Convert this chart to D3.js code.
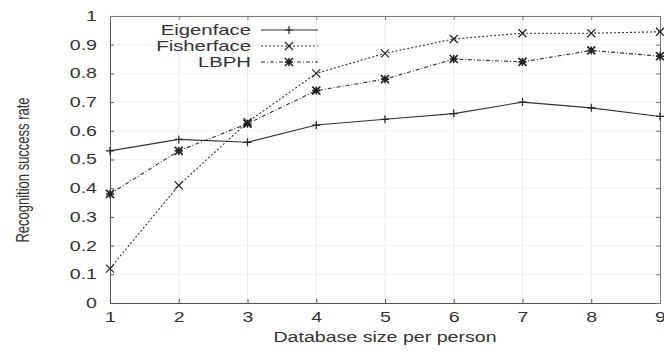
<!DOCTYPE html>
<html>
<head>
<meta charset="utf-8">
<script src="https://cdn.jsdelivr.net/npm/d3@7"></script>
<style>
  body { margin: 0; background: #fff; }
  text { font-family: "Liberation Sans", Arial, sans-serif; fill: #333; }
</style>
</head>
<body>
<svg id="chart" width="664" height="352"></svg>
<script>
// data
var sizes = [1, 2, 3, 4, 5, 6, 7, 8, 9];
var eigenface = [0.53, 0.57, 0.56, 0.62, 0.64, 0.66, 0.70, 0.68, 0.65];
var fisherface = [0.12, 0.41, 0.63, 0.80, 0.87, 0.92, 0.94, 0.94, 0.945];
var lbph = [0.38, 0.53, 0.625, 0.74, 0.78, 0.85, 0.84, 0.88, 0.86];
var yTicks = [0, 0.1, 0.2, 0.3, 0.4, 0.5, 0.6, 0.7, 0.8, 0.9, 1];

var series = [
  {name: "Eigenface", values: eigenface, dash: null, marker: "plus"},
  {name: "Fisherface", values: fisherface, dash: "2,2", marker: "cross"},
  {name: "LBPH", values: lbph, dash: "4,2,1,2", marker: "star"}
];

// the original picture is stretched sideways, so text is widened too
var stretch = 1.4;

var svg = d3.select("#chart");
var margin = {top: 16, right: 4, bottom: 49, left: 110},
    width = 664 - margin.left - margin.right,
    height = 352 - margin.top - margin.bottom;

var x = d3.scaleLinear().domain([1, 9]).range([0, width]),
    y = d3.scaleLinear().domain([0, 1]).range([height, 0]);

var g = svg.append("g")
    .attr("transform", "translate(" + margin.left + "," + margin.top + ")");

// faint grid
g.selectAll(".vgrid").data(sizes).enter().append("line")
    .attr("x1", function(d) { return x(d); }).attr("x2", function(d) { return x(d); })
    .attr("y1", 0).attr("y2", height)
    .attr("stroke", "#ececec");
g.selectAll(".hgrid").data(yTicks).enter().append("line")
    .attr("x1", 0).attr("x2", width)
    .attr("y1", function(d) { return y(d); }).attr("y2", function(d) { return y(d); })
    .attr("stroke", "#f2f2f2");

function axisColor(c) {
  return function(a) { a.select(".domain").attr("stroke", c); a.selectAll("line").attr("stroke", c); };
}

// axes, ticks pointing inward
g.append("g")
    .attr("transform", "translate(0," + height + ")")
    .call(d3.axisBottom(x).tickValues(sizes).tickSizeInner(-4).tickSizeOuter(0).tickPadding(9).tickFormat(d3.format("d")))
    .call(axisColor("#555"))
    .selectAll("text")
      .style("font-size", "14px")
      .attr("transform", "scale(" + stretch + ",1)");

g.append("g")
    .call(d3.axisLeft(y).tickValues(yTicks).tickSizeInner(-4).tickSizeOuter(0)
      .tickFormat(function(d) { return d === 0 || d === 1 ? d : d.toFixed(1); }))
    .call(axisColor("#555"))
    .selectAll("text")
      .style("font-size", "14px")
      .attr("x", -13 / stretch)
      .attr("transform", "scale(" + stretch + ",1)");

g.append("g")
    .call(d3.axisTop(x).tickValues(sizes).tickSizeInner(-4).tickSizeOuter(0).tickFormat(""))
    .call(axisColor("#777"));
g.append("g")
    .attr("transform", "translate(" + width + ",0)")
    .call(d3.axisRight(y).tickValues(yTicks).tickSizeInner(-4).tickSizeOuter(0).tickFormat(""))
    .call(axisColor("#777"));

// axis titles
svg.append("text")
    .attr("transform", "translate(385,342) scale(" + stretch + ",1)")
    .attr("text-anchor", "middle").style("font-size", "14px")
    .text("Database size per person");
svg.append("text")
    .attr("transform", "translate(29,170) rotate(-90) scale(1," + stretch + ")")
    .attr("text-anchor", "middle").style("font-size", "13px")
    .text("Recognition success rate");

function drawMarker(sel, type) {
  var s = 4;
  var p = "";
  if (type === "plus" || type === "star") p += "M" + (-s) + ",0H" + s + "M0," + (-s) + "V" + s;
  if (type === "cross" || type === "star") p += "M" + (-s) + "," + (-s) + "L" + s + "," + s + "M" + (-s) + "," + s + "L" + s + "," + (-s);
  sel.append("path").attr("d", p).attr("stroke", "#222").attr("stroke-width", type === "star" ? 1.6 : 1.2).attr("fill", "none");
}

var line = d3.line()
    .x(function(d, i) { return x(sizes[i]); })
    .y(function(d) { return y(d); });

series.forEach(function(s) {
  g.append("path")
      .datum(s.values)
      .attr("d", line)
      .attr("fill", "none")
      .attr("stroke", "#333")
      .attr("stroke-width", 1.1)
      .attr("stroke-dasharray", s.dash);
  g.selectAll(".m-" + s.marker)
    .data(s.values)
    .enter().append("g")
      .attr("class", "m-" + s.marker)
      .attr("transform", function(d, i) { return "translate(" + x(sizes[i]) + "," + y(d) + ")"; })
      .each(function() { drawMarker(d3.select(this), s.marker); });
});

// legend
var legend = svg.append("g");
series.forEach(function(s, i) {
  var ly = 30 + i * 16;
  var row = legend.append("g");
  row.append("text")
      .attr("transform", "translate(251," + ly + ") scale(" + (stretch + 0.05) + ",1)")
      .attr("dy", "0.35em")
      .attr("text-anchor", "end").style("font-size", "14px")
      .text(s.name);
  row.append("line")
      .attr("x1", 261).attr("x2", 318).attr("y1", ly).attr("y2", ly)
      .attr("stroke", "#333").attr("stroke-width", 1.1)
      .attr("stroke-dasharray", s.dash);
  var m = row.append("g").attr("transform", "translate(289," + ly + ")");
  drawMarker(m, s.marker);
});
</script>
</body>
</html>
